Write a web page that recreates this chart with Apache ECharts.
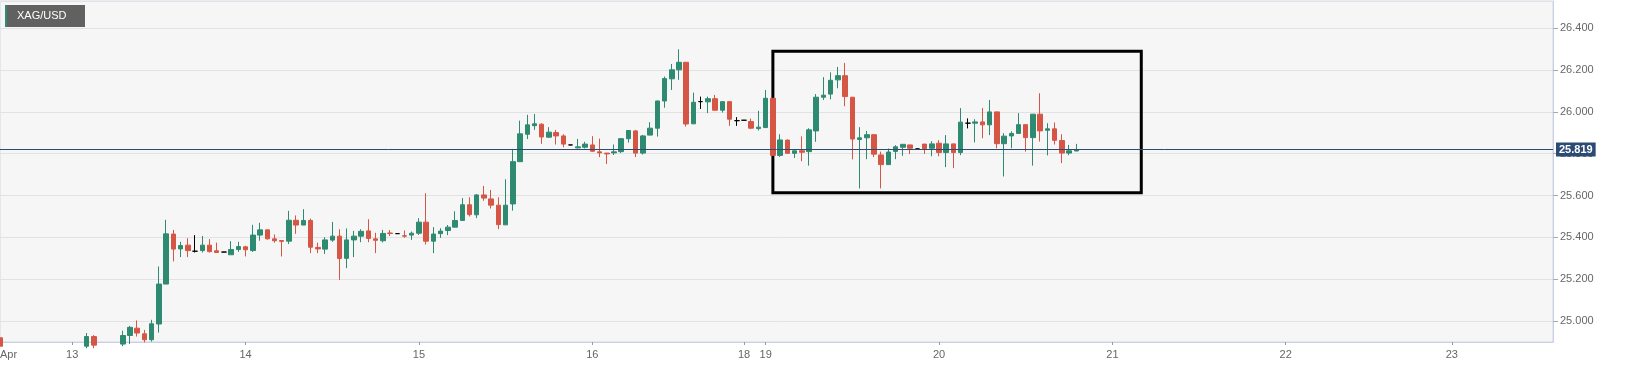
<!DOCTYPE html>
<html>
<head>
<meta charset="utf-8">
<script src="https://cdn.jsdelivr.net/npm/echarts@6/dist/echarts.min.js"></script>
<style>
html,body{margin:0;padding:0;background:#fff;}
#chart{width:1631px;height:368px;}
</style>
</head>
<body>
<div id="chart"></div>
<script>
// Trading sessions (day, first hour, last hour) -> hourly categories
const sessions = [
  ['04-12', 14, 23], ['04-13', 0, 23], ['04-14', 0, 23], ['04-15', 0, 23],
  ['04-16', 0, 20], ['04-18', 21, 23], ['04-19', 0, 23], ['04-20', 0, 23],
  ['04-21', 0, 23], ['04-22', 0, 22], ['04-23', 0, 14]
];
// x tick labels and where they sit
const tickLabels = ['Apr', '13', '14', '15', '16', '18', '19', '20', '21', '22', '23'];
const tickAt = ['04-12 14:00', '04-13 00:00', '04-14 00:00', '04-15 00:00', '04-16 00:00',
  '04-18 21:00', '04-19 00:00', '04-20 00:00', '04-21 00:00', '04-22 00:00', '04-23 00:00'];

// Hourly OHLC of XAG/USD (null = below visible range / not readable)
const open = [
  24.92, null, null, null, null, null, null, null, null, null,
  null, null, 24.88, 24.926, null, null, null, 24.89, 24.931, 24.966,
  24.939, 24.911, 24.986, 25.177, 25.416, 25.345, 25.363, 25.334, 25.337, 25.363,
  25.336, 25.330, 25.317, 25.342, 25.355, 25.337, 25.411, 25.436, 25.393, 25.385,
  25.382, 25.482, 25.459, 25.481, 25.352, 25.344, 25.387, 25.406, 25.300, 25.388,
  25.406, 25.431, 25.393, 25.384, 25.421, 25.418, 25.408, 25.411, 25.420, 25.473,
  25.382, 25.418, 25.433, 25.449, 25.481, 25.556, 25.508, 25.603, 25.584, 25.554,
  25.460, 25.560, 25.762, 25.893, 25.934, 25.941, 25.879, 25.901, 25.885, 25.842,
  25.828, 25.831, 25.842, 25.809, 25.803, 25.804, 25.810, 25.872, 25.909, 25.803,
  25.889, 25.922, 26.052, 26.158, 26.201, 26.237, 25.943, 26.049, 26.048, 26.063,
  26.008, 26.049, 25.958, 25.960, 25.954, 25.920, 25.925, 26.065, 25.792, 25.865,
  25.802, 25.814, 25.810, 25.909, 26.070, 26.085, 26.153, 26.173, 26.070, 25.868,
  25.876, 25.891, 25.794, 25.748, 25.811, 25.831, 25.842, 25.823, 25.846, 25.826,
  25.850, 25.806, 25.847, 25.806, 25.946, 25.946, 25.952, 25.938, 26.000, 25.848,
  25.885, 25.897, 25.939, 25.877, 25.989, 25.912, 25.919, 25.863, 25.803, 25.813
];
const close = [
  24.88, null, null, null, null, null, null, null, null, null,
  null, null, 24.926, 24.885, null, null, null, 24.931, 24.970, 24.943,
  24.911, 24.987, 25.177, 25.417, 25.344, 25.361, 25.337, 25.334, 25.363, 25.332,
  25.328, 25.330, 25.342, 25.356, 25.341, 25.411, 25.436, 25.393, 25.384, 25.381,
  25.482, 25.459, 25.481, 25.353, 25.345, 25.388, 25.406, 25.299, 25.388, 25.406,
  25.429, 25.395, 25.386, 25.419, 25.419, 25.418, 25.406, 25.420, 25.473, 25.382,
  25.416, 25.430, 25.449, 25.481, 25.556, 25.509, 25.603, 25.588, 25.554, 25.461,
  25.554, 25.762, 25.895, 25.938, 25.943, 25.880, 25.903, 25.885, 25.846, 25.842,
  25.833, 25.846, 25.812, 25.804, 25.799, 25.809, 25.872, 25.911, 25.803, 25.885,
  25.922, 26.052, 26.159, 26.201, 26.237, 25.942, 26.046, 26.049, 26.063, 26.008,
  26.049, 25.965, 25.958, 25.960, 25.922, 25.927, 26.065, 25.792, 25.866, 25.802,
  25.814, 25.807, 25.914, 26.070, 26.080, 26.151, 26.173, 26.073, 25.870, 25.876,
  25.891, 25.798, 25.748, 25.808, 25.833, 25.845, 25.826, 25.823, 25.824, 25.847,
  25.806, 25.847, 25.806, 25.951, 25.946, 25.952, 25.938, 26.000, 25.848, 25.884,
  25.897, 25.939, 25.877, 25.989, 25.909, 25.919, 25.864, 25.803, 25.814, 25.819
];
const low = [
  24.86, null, null, null, null, null, null, null, null, null,
  null, null, 24.87, 24.87, null, null, null, 24.88, 24.89, 24.926,
  24.898, 24.902, 24.945, 25.177, 25.285, 25.306, 25.306, 25.328, 25.328, 25.328,
  25.328, 25.330, 25.317, 25.331, 25.309, 25.331, 25.384, 25.390, 25.375, 25.309,
  25.368, 25.417, 25.459, 25.325, 25.325, 25.321, 25.379, 25.197, 25.253, 25.306,
  25.377, 25.377, 25.325, 25.376, 25.407, 25.418, 25.398, 25.388, 25.412, 25.366,
  25.325, 25.398, 25.411, 25.449, 25.480, 25.500, 25.492, 25.575, 25.538, 25.439,
  25.460, 25.528, 25.762, 25.870, 25.914, 25.847, 25.876, 25.844, 25.831, 25.842,
  25.825, 25.825, 25.809, 25.784, 25.751, 25.794, 25.803, 25.853, 25.784, 25.796,
  25.888, 25.882, 26.020, 26.105, 26.153, 25.930, 25.942, 26.014, 25.994, 26.006,
  25.997, 25.933, 25.933, 25.960, 25.917, 25.911, 25.924, 25.790, 25.785, 25.800,
  25.780, 25.764, 25.743, 25.857, 26.057, 26.060, 26.113, 26.027, 25.773, 25.634,
  25.774, 25.784, 25.634, 25.747, 25.774, 25.790, 25.798, 25.823, 25.799, 25.788,
  25.788, 25.736, 25.731, 25.793, 25.921, 25.854, 25.874, 25.889, 25.826, 25.691,
  25.826, 25.896, 25.810, 25.743, 25.858, 25.792, 25.844, 25.755, 25.793, 25.812
];
const high = [
  24.92, null, null, null, null, null, null, null, null, null,
  null, null, 24.943, 24.933, null, null, null, 24.954, 24.977, 25.003,
  24.958, 25.006, 25.261, 25.484, 25.436, 25.379, 25.396, 25.411, 25.407, 25.392,
  25.375, 25.330, 25.382, 25.379, 25.360, 25.460, 25.470, 25.438, 25.414, 25.386,
  25.527, 25.505, 25.535, 25.490, 25.375, 25.401, 25.474, 25.439, 25.443, 25.431,
  25.439, 25.487, 25.422, 25.436, 25.435, 25.418, 25.433, 25.428, 25.492, 25.611,
  25.449, 25.444, 25.459, 25.525, 25.588, 25.592, 25.607, 25.646, 25.627, 25.592,
  25.678, 25.823, 25.958, 25.986, 25.990, 25.946, 25.927, 25.914, 25.893, 25.842,
  25.871, 25.857, 25.884, 25.872, 25.803, 25.844, 25.873, 25.912, 25.914, 25.890,
  25.951, 26.054, 26.169, 26.229, 26.299, 26.238, 26.092, 26.073, 26.073, 26.081,
  26.050, 26.050, 25.975, 25.960, 25.968, 26.005, 26.105, 26.066, 25.893, 25.868,
  25.814, 25.883, 25.922, 26.085, 26.166, 26.189, 26.215, 26.234, 26.071, 25.927,
  25.909, 25.892, 25.810, 25.825, 25.841, 25.846, 25.843, 25.823, 25.847, 25.860,
  25.865, 25.889, 25.848, 26.018, 25.969, 25.965, 26.018, 26.057, 26.001, 25.898,
  25.907, 25.994, 25.940, 25.990, 26.089, 25.946, 25.949, 25.893, 25.842, 25.847
];
const lastPrice = 25.819;
// highlighted consolidation box
const boxFrom = '04-19 01:00', boxTo = '04-21 04:00';
const boxTop = 26.29, boxBottom = 25.614;
const yMin = 24.9, yMax = 26.53;

const categories = [];
sessions.forEach(([d, h0, h1]) => {
  for (let h = h0; h <= h1; h++) categories.push(d + ' ' + String(h).padStart(2, '0') + ':00');
});
const labelMap = {};
tickAt.forEach((c, i) => { labelMap[c] = tickLabels[i]; });

const data = open.map((o, i) => o == null ? '-' : [o, close[i], low[i], high[i]]);

const GREEN = '#2e8a70', RED = '#d65646';
const chart = echarts.init(document.getElementById('chart'), null, {renderer: 'canvas'});
chart.setOption({
  animation: false,
  backgroundColor: '#ffffff',
  textStyle: {fontFamily: 'Liberation Sans, Arial, sans-serif'},
  grid: {
    left: 0, right: 78, top: 1, bottom: 26,
    show: true, backgroundColor: '#f6f6f6', borderColor: '#d3d8e8', borderWidth: 1,
    containLabel: false, outerBoundsMode: 'none'
  },
  graphic: [
    {type: 'rect', left: 5, top: 5, shape: {width: 80, height: 22}, style: {fill: '#616161'}, z: 100},
    {type: 'rect', left: 5, top: 5, shape: {width: 2, height: 22}, style: {fill: '#2e8a70'}, z: 101},
    {type: 'text', left: 17, top: 10, style: {text: 'XAG/USD', fill: '#ffffff', font: '11px "Liberation Sans", Arial, sans-serif'}, z: 102}
  ],
  xAxis: {
    type: 'category',
    data: categories,
    boundaryGap: false,
    axisLine: {show: true, lineStyle: {color: '#c9d0e3'}},
    axisTick: {
      show: true, length: 3, lineStyle: {color: '#999'},
      interval: (i, v) => labelMap[v] !== undefined
    },
    axisLabel: {
      color: '#666', fontSize: 11, margin: 7,
      interval: (i, v) => labelMap[v] !== undefined,
      formatter: (v) => labelMap[v] || '',
      alignMinLabel: 'left'
    },
    splitLine: {show: false}
  },
  yAxis: {
    type: 'value',
    position: 'right',
    min: yMin, max: yMax,
    splitNumber: 8,
    scale: true,
    axisLine: {show: true, lineStyle: {color: '#c9d0e3'}},
    axisTick: {show: true, length: 5, lineStyle: {color: '#aaa'}},
    axisLabel: {
      color: '#666', fontSize: 11, margin: 7,
      showMinLabel: false, showMaxLabel: false,
      formatter: (v) => Math.abs(v * 5 - Math.round(v * 5)) < 1e-6 ? v.toFixed(3) : ''
    },
    splitLine: {show: true, lineStyle: {color: '#e2e2e2', width: 1}}
  },
  series: [{
    type: 'candlestick',
    data: data,
    barWidth: 5,
    clip: true,
    itemStyle: {
      color: GREEN, color0: RED,
      borderColor: GREEN, borderColor0: RED,
      borderColorDoji: '#000',
      borderWidth: 1
    },
    markLine: {
      silent: true,
      symbol: ['none', 'none'],
      lineStyle: {color: '#2b4a74', width: 1, type: 'solid'},
      label: {
        show: true, position: 'end', distance: 3,
        formatter: () => lastPrice.toFixed(3),
        color: '#fff', fontWeight: 'bold', fontSize: 11,
        backgroundColor: '#2b4a74', padding: [2, 3, 1, 3]
      },
      data: [{yAxis: lastPrice}]
    },
    markArea: {
      silent: true,
      itemStyle: {color: 'rgba(0,0,0,0)', borderColor: '#000', borderWidth: 3},
      label: {show: false},
      data: [[{xAxis: boxFrom, yAxis: boxTop}, {xAxis: boxTo, yAxis: boxBottom}]]
    }
  }]
});
</script>
</body>
</html>
